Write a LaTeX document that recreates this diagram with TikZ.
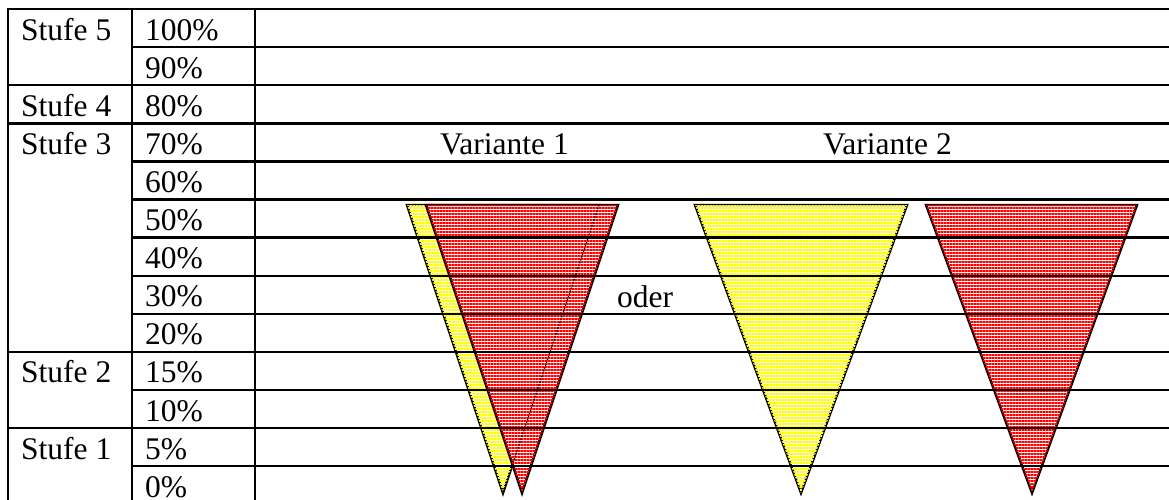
\documentclass[tikz,border=0pt]{standalone}
\usepackage{fontspec}
\setmainfont{Liberation Serif}
\usetikzlibrary{patterns.meta}

\begin{document}
\begin{tikzpicture}[x=1pt,y=-1pt,
  rule/.style={line width=2.4pt,line cap=rect},
  lbl/.style={anchor=base west,inner sep=0pt,font=\fontsize{31.5}{38}\selectfont},
  ytri/.style={draw,line width=2.4pt,fill=white,postaction={pattern={Lines[angle=0,distance=3pt,line width=1.4pt]},pattern color=yellow}},
  rtri/.style={draw,line width=2.4pt,fill=white,postaction={pattern={Lines[angle=0,distance=3pt,line width=1.1pt]},pattern color=red}}]
\useasboundingbox (0,0) rectangle (1169,499);
% Variante 1
\draw[ytri] (407,205) -- (599,205) -- (503,493) -- cycle;
\draw[rtri] (426,205) -- (618,205) -- (522,493) -- cycle;
\draw[line width=1.2pt,dash pattern=on 1.5pt off 1.5pt] (599,205) -- (503,493);
% Variante 2
\draw[ytri] (695,205) -- (907,205) -- (801,493) -- cycle;
\draw[rtri] (926,205) -- (1137,205) -- (1032,493) -- cycle;
% table
\foreach \r in {0,2,3,9,11,13}
  \draw[rule] (8,9+38.1*\r) -- (1169,9+38.1*\r);
\foreach \r in {1,4,5,6,7,8,10,12}
  \draw[rule] (132,9+38.1*\r) -- (1169,9+38.1*\r);
\foreach \x in {8,132,255}
  \draw[rule] (\x,9) -- (\x,504);
% labels
\foreach \r/\t [count=\i] in {0/100,1/90,2/80,3/70,4/60,5/50,6/40,7/30,8/20,9/15,10/10,11/5,12/0}
  \node[lbl] (p\i) at (145,40+38.1*\r) {\t\%};
\foreach \r/\s in {0/5,2/4,3/3,9/2,11/1}
  \node[lbl] (s\s) at (21,40+38.1*\r) {Stufe \s};
\node[lbl] (var1) at (440,154) {Variante 1};
\node[lbl] (var2) at (823,154) {Variante 2};
\node[lbl] (oder) at (617,307) {oder};
\end{tikzpicture}
\end{document}
